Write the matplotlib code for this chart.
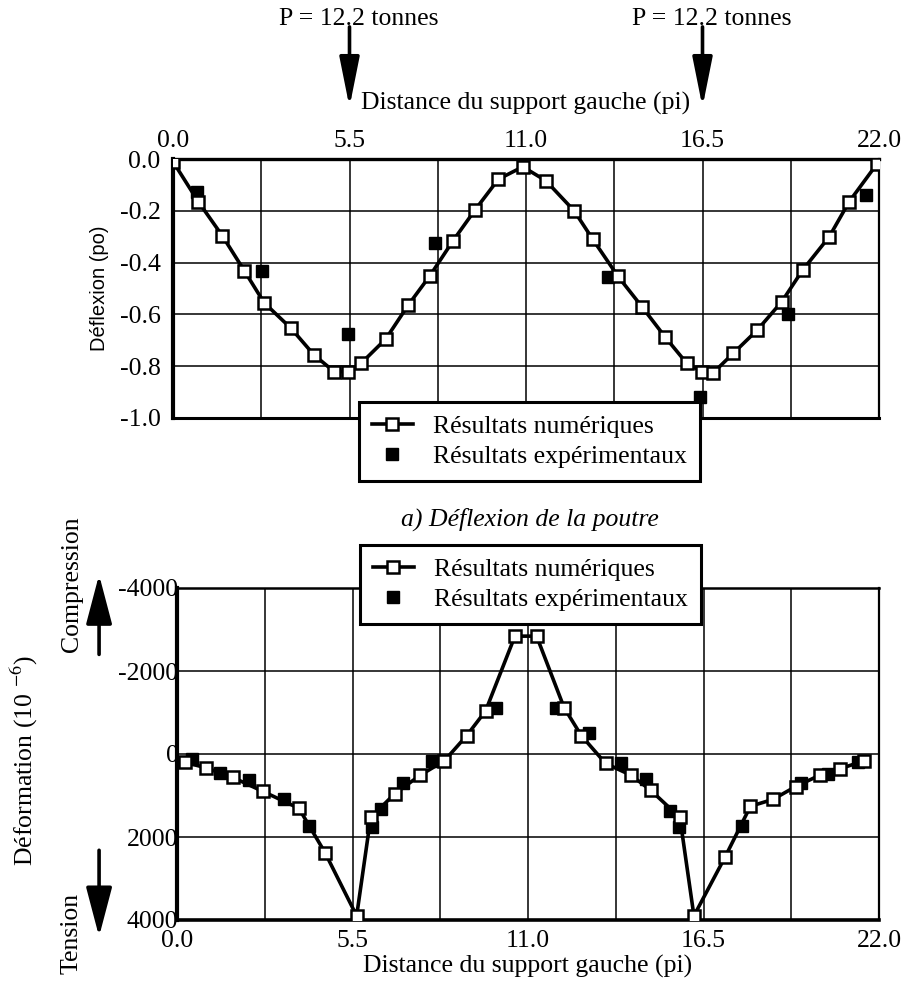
import numpy as np
import matplotlib
matplotlib.use('Agg')
import matplotlib.pyplot as plt
from matplotlib.ticker import MultipleLocator, FixedLocator

plt.rcParams['font.family'] = ['Liberation Serif', 'DejaVu Serif']
plt.rcParams['mathtext.fontset'] = 'stix'

# --- deflexion (top) ---
defl_num_x = [0.0, 0.79, 1.54, 2.22, 2.84, 3.68, 4.39, 5.02, 5.46, 5.86, 6.63,
              7.33, 8.01, 8.73, 9.41, 10.14, 10.9, 11.62, 12.50, 13.08, 13.86,
              14.61, 15.34, 16.01, 16.48, 16.82, 17.46, 18.21, 18.97, 19.62,
              20.45, 21.07, 21.93]
defl_num_y = [-0.01, -0.165, -0.297, -0.431, -0.555, -0.654, -0.756, -0.821,
              -0.821, -0.789, -0.695, -0.564, -0.45, -0.315, -0.197, -0.078,
              -0.03, -0.084, -0.20, -0.31, -0.452, -0.57, -0.688, -0.789,
              -0.821, -0.827, -0.75, -0.66, -0.551, -0.429, -0.30, -0.165, -0.02]
defl_exp_x = [0.74, 2.76, 5.46, 8.16, 13.56, 16.42, 19.17, 21.6]
defl_exp_y = [-0.126, -0.431, -0.677, -0.326, -0.457, -0.918, -0.599, -0.139]

# --- deformation (bottom), 10^-6 ---
strain_num_x = [0.26, 0.91, 1.75, 2.69, 3.82, 4.64, 5.63, 6.07, 6.83, 7.62, 8.38,
                9.08, 9.67, 10.59, 11.27, 12.13, 12.67, 13.43, 14.23, 14.85,
                15.76, 16.2, 17.18, 17.97, 18.68, 19.39, 20.14, 20.78, 21.53]
strain_num_y = [202, 333, 565, 900, 1309, 2378, 3900, 1530, 953, 512, 163, -444,
                -1037, -2840, -2840, -1119, -444, 226, 512, 877, 1530, 3900, 2477,
                1260, 1093, 784, 512, 356, 163]
strain_exp_x = [0.48, 1.34, 2.27, 3.36, 4.13, 6.10, 6.39, 7.08, 7.98, 10.0, 11.87,
                12.91, 13.9, 14.71, 15.46, 15.73, 17.71, 19.54, 20.39, 21.33]
strain_exp_y = [123, 449, 628, 1077, 1728, 1751, 1326, 705, 163, -1104, -1104,
                -501, 226, 612, 1365, 1751, 1728, 691, 472, 202]

x_ticks = [0.0, 5.5, 11.0, 16.5, 22.0]
x_ticklabels = ['0.0', '5.5', '11.0', '16.5', '22.0']
defl_ticks = [0.0, -0.2, -0.4, -0.6, -0.8, -1.0]
defl_ticklabels = ['0.0', '-0.2', '-0.4', '-0.6', '-0.8', '-1.0']
strain_ticks = [-4000, -2000, 0, 2000, 4000]
strain_ticklabels = ['-4000', '-2000', '0', '2000', '4000']
load_pos = [5.5, 16.5]

lab_num = 'Résultats numériques'
lab_exp = 'Résultats expérimentaux'

W, H = 901, 991
fig = plt.figure(figsize=(W / 100, H / 100), dpi=100)
ax1 = fig.add_axes([173 / W, 1 - 418 / H, 706 / W, 259 / H])
ax2 = fig.add_axes([177 / W, 1 - 920 / H, 702 / W, 332 / H])

fs = 18.5


def style(ax):
    ax.set_xlim(0, 22)
    ax.xaxis.set_major_locator(FixedLocator(x_ticks))
    ax.xaxis.set_minor_locator(MultipleLocator(2.75))
    ax.grid(True, which='both', color='black', lw=1.1)
    ax.set_axisbelow(True)
    ax.tick_params(which='both', length=0, labelsize=fs)


def legend(ax, hnum, hexp, anchor):
    leg = ax.legend([hnum, hexp], [lab_num, lab_exp], loc='upper center',
                    bbox_to_anchor=anchor, fontsize=fs,
                    frameon=True, fancybox=False, framealpha=1,
                    edgecolor='black', borderaxespad=0, handlelength=1.6,
                    handletextpad=0.8, borderpad=0.5, labelspacing=0.3)
    leg.get_frame().set_linewidth(2.2)
    leg.set_zorder(10)


# top chart
style(ax1)
e1, = ax1.plot(defl_exp_x, defl_exp_y, 's', color='black', ms=9, zorder=3)
n1, = ax1.plot(defl_num_x, defl_num_y, '-s', color='black', lw=2.6, ms=8, mfc='white',
               mec='black', mew=1.8, zorder=4)
ax1.set_ylim(-1.0, 0.0)
ax1.set_yticks(defl_ticks)
ax1.set_yticklabels(defl_ticklabels)
ax1.set_xticklabels(x_ticklabels)
ax1.xaxis.tick_top()
ax1.tick_params(axis='x', pad=5)
ax1.tick_params(axis='y', pad=9)
ax1.set_xlabel('Distance du support gauche (pi)', fontsize=fs)
ax1.xaxis.set_label_position('top')
ax1.xaxis.set_label_coords(0.5, 1.19)
ax1.set_ylabel('Déflexion (po)', fontsize=14.5, family=['Liberation Sans', 'DejaVu Sans'])
ax1.yaxis.set_label_coords(-0.09, 0.5)
for s, w in zip(['left', 'top', 'right', 'bottom'], [3.0, 2.4, 1.6, 2.2]):
    ax1.spines[s].set_linewidth(w)
legend(ax1, n1, e1, (0.505, 0.062))

for xp in load_pos:
    ax1.annotate('', xy=(xp, 1.2), xycoords=('data', 'axes fraction'),
                 xytext=(xp, 1.51), textcoords=('data', 'axes fraction'),
                 arrowprops=dict(arrowstyle='-|>,head_length=1.9,head_width=0.38',
                                 color='black', lw=2.6, mutation_scale=16,
                                 shrinkA=0, shrinkB=0))
    ax1.text(xp + 0.3, 1.54, 'P = 12.2 tonnes', fontsize=fs, ha='center',
             va='center', transform=ax1.get_xaxis_transform())

ax1.text(0.505, -0.39, 'a) Déflexion de la poutre', fontsize=fs,
         style='italic', ha='center', va='center', transform=ax1.transAxes)

# bottom chart
style(ax2)
e2, = ax2.plot(strain_exp_x, strain_exp_y, 's', color='black', ms=9, zorder=3)
n2, = ax2.plot(strain_num_x, strain_num_y, '-s', color='black', lw=2.6, ms=8, mfc='white',
               mec='black', mew=1.8, zorder=4)
ax2.set_ylim(4000, -4000)
ax2.set_yticks(strain_ticks)
ax2.set_yticklabels(strain_ticklabels)
ax2.set_xticklabels(x_ticklabels)
ax2.tick_params(axis='x', pad=7)
ax2.tick_params(axis='y', pad=-1)
ax2.set_xlabel('Distance du support gauche (pi)', fontsize=fs)
ax2.xaxis.set_label_coords(0.5, -0.105)
ax2.set_ylabel('Déformation (10 $^{-6}$)', fontsize=fs)
ax2.yaxis.set_label_coords(-0.195, 0.48)
for s, w in zip(['left', 'top', 'right', 'bottom'], [3.0, 1.8, 1.6, 2.6]):
    ax2.spines[s].set_linewidth(w)
legend(ax2, n2, e2, (0.5036, 1.13))

ax2.text(-0.15, 1.01, 'Compression', rotation=90, fontsize=fs, ha='center',
         va='center', transform=ax2.transAxes)
ax2.text(-0.15, -0.04, 'Tension', rotation=90, fontsize=fs, ha='center',
         va='center', transform=ax2.transAxes)
arr = dict(arrowstyle='-|>,head_length=1.9,head_width=0.5', color='black', lw=2.6,
           mutation_scale=16, shrinkA=0, shrinkB=0)
ax2.annotate('', xy=(-0.111, 1.04), xycoords='axes fraction',
             xytext=(-0.111, 0.8), annotation_clip=False, arrowprops=arr)
ax2.annotate('', xy=(-0.111, -0.05), xycoords='axes fraction',
             xytext=(-0.111, 0.21), annotation_clip=False, arrowprops=arr)

fig.savefig('out.png', dpi=100)
